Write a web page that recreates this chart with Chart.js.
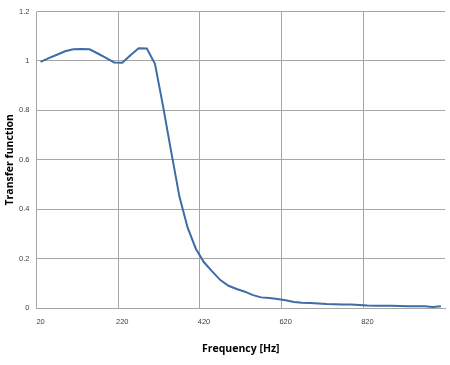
<!DOCTYPE html>
<html>
<head>
<meta charset="utf-8">
<script src="https://cdn.jsdelivr.net/npm/chart.js@4/dist/chart.umd.min.js"></script>
<style>
  html, body { margin: 0; padding: 0; background: #ffffff; }
  #c { display: block; }
</style>
</head>
<body>
<canvas id="c" width="450" height="365"></canvas>
<script>
const frequencies = [20, 40, 60, 80, 100, 120, 140, 160, 180, 200,
  220, 240, 260, 280, 300, 320, 340, 360, 380, 400,
  420, 440, 460, 480, 500, 520, 540, 560, 580, 600,
  620, 640, 660, 680, 700, 720, 740, 760, 780, 800,
  820, 840, 860, 880, 900, 920, 940, 960, 980, 1000];

const transferValues = [0.996, 1.011, 1.025, 1.039, 1.047, 1.048, 1.047, 1.03, 1.012, 0.994,
  0.993, 1.023, 1.051, 1.05, 0.988, 0.815, 0.63, 0.45, 0.325, 0.24,
  0.185, 0.148, 0.113, 0.09, 0.077, 0.066, 0.052, 0.043, 0.04, 0.036,
  0.031, 0.024, 0.021, 0.02, 0.018, 0.016, 0.015, 0.014, 0.014, 0.012,
  0.01, 0.009, 0.009, 0.009, 0.008, 0.007, 0.007, 0.007, 0.004, 0.007];

const xTickLabels = ['20', '220', '420', '620', '820'];
const yTickValues = [0, 0.2, 0.4, 0.6, 0.8, 1, 1.2];

const gridColor = '#a6a6a6';
const tickFont = { family: "'Liberation Sans', Arial, sans-serif", size: 7.5 };
const titleFont = { family: "'Open Sans', 'Liberation Sans', sans-serif", size: 10.5, weight: 'bold' };

new Chart(document.getElementById('c'), {
  type: 'line',
  data: {
    labels: frequencies,
    datasets: [{
      data: transferValues,
      borderColor: '#3d6ca6',
      borderWidth: 2,
      pointRadius: 0,
      tension: 0,
      fill: false
    }]
  },
  options: {
    responsive: false,
    animation: false,
    layout: { padding: { top: 7, right: 5, left: 4, bottom: 10 } },
    plugins: { legend: { display: false }, tooltip: { enabled: false } },
    scales: {
      x: {
        type: 'category',
        offset: true,
        grid: {
          offset: true,
          drawTicks: false,
          lineWidth: 1,
          color: (ctx) => (ctx.index % 10 === 0 ? gridColor : 'rgba(0,0,0,0)')
        },
        border: { display: true, color: gridColor, width: 1 },
        ticks: {
          autoSkip: false,
          maxRotation: 0,
          minRotation: 0,
          padding: 9,
          color: '#404040',
          font: tickFont,
          callback: function (value, index) {
            const lbl = String(frequencies[index]);
            return xTickLabels.includes(lbl) && index % 10 === 0 ? lbl : '';
          }
        },
        title: {
          display: true,
          text: 'Frequency [Hz]',
          color: '#000000',
          font: titleFont,
          padding: 0
        },
        afterFit: (s) => { s.height = 47; }
      },
      y: {
        min: 0,
        max: 1.2,
        afterBuildTicks: (s) => { s.ticks = yTickValues.map(v => ({ value: v })); },
        grid: { drawTicks: false, color: gridColor, lineWidth: 1 },
        border: { display: false },
        ticks: {
          padding: 7,
          color: '#404040',
          font: tickFont,
          callback: (v) => String(+v.toFixed(1))
        },
        title: {
          display: true,
          text: 'Transfer function',
          color: '#000000',
          font: titleFont,
          padding: 0
        },
        afterFit: (s) => { s.width = 32.5; }
      }
    }
  }
});
</script>
</body>
</html>
